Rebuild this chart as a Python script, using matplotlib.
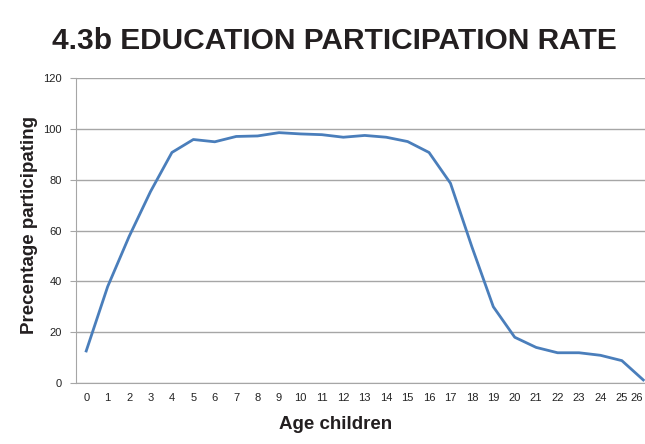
import matplotlib.pyplot as plt

ages = list(range(27))
participation = [12.6, 37.9, 57.6, 75.3, 90.7, 95.8, 94.9, 97.0, 97.2, 98.5,
                 98.0, 97.7, 96.7, 97.4, 96.7, 95.0, 90.7, 78.6, 53.6, 30.0,
                 18.0, 14.0, 11.9, 11.9, 10.9, 8.8, 1.2]
y_ticks = [0, 20, 40, 60, 80, 100, 120]

plt.rcParams['font.family'] = ['Liberation Sans', 'DejaVu Sans']

fig = plt.figure(figsize=(6.45, 4.44), dpi=100)
# plot area runs slightly past the right edge of the figure
ax = fig.add_axes([75.5 / 645, 1 - 383 / 444, (654 - 75.5) / 645, (383 - 78) / 444])

ax.plot(ages, participation, color='#4a7ebb', linewidth=2)

ax.set_xlim(-0.5, 26.5)
ax.set_ylim(0, 120)
ax.set_xticks(ages)
ax.set_yticks(y_ticks)
ax.grid(axis='y', color='#a6a6a6', linewidth=1)
ax.set_axisbelow(True)

for side in ['top', 'right']:
    ax.spines[side].set_visible(False)
ax.spines['left'].set_color('#a6a6a6')
ax.spines['bottom'].set_color('#a6a6a6')
ax.tick_params(axis='x', length=0, pad=7, labelsize=8, labelcolor='#222222')
ax.tick_params(axis='y', length=4, color='#a6a6a6', pad=6, labelsize=8, labelcolor='#222222')

# keep the last age label inside the figure edge
ax.get_xticklabels()[-1].set_horizontalalignment('right')
ax.get_xticklabels()[-1].set_x(26.25)

fig.text(334.5 / 645, 1 - 41 / 444, '4.3b EDUCATION PARTICIPATION RATE', ha='center', va='center',
         fontsize=21.5, fontweight='bold', color='#231f20')
fig.text(335.5 / 645, 1 - 424 / 444, 'Age children', ha='center', va='center',
         fontsize=13.5, fontweight='bold', color='#231f20')
fig.text(30 / 645, 1 - 225 / 444, 'Precentage participating', ha='center', va='center',
         rotation=90, fontsize=13.5, fontweight='bold', color='#231f20')

fig.savefig('out.png', dpi=100)
